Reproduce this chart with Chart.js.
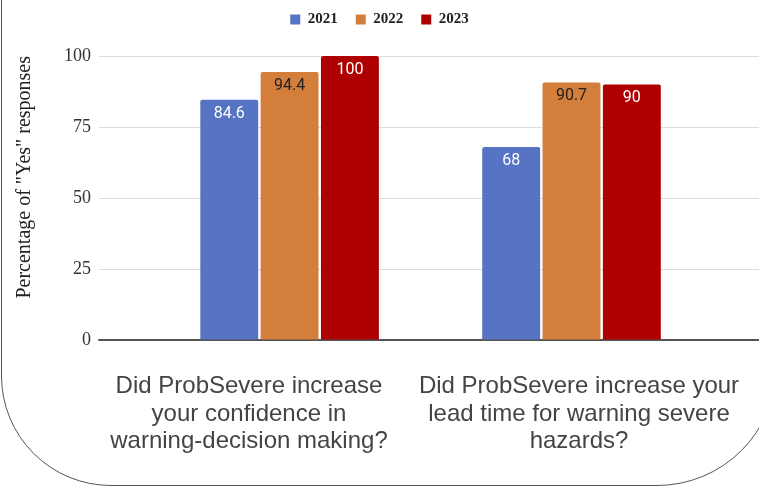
<!DOCTYPE html>
<html>
<head>
<meta charset="utf-8">
<script src="https://cdn.jsdelivr.net/npm/chart.js@4"></script>
<style>
    html, body { margin: 0; padding: 0; background: #fff; overflow: hidden; }
    #wrap { position: relative; width: 759px; height: 487px; }
    #frame {
        position: absolute; left: 1px; top: -20px; width: 776px; height: 506px;
        border: 1.5px solid #555; border-radius: 0 0 120px 110px; box-sizing: border-box;
    }
    #chart { position: absolute; left: 0; top: 0; }
</style>
</head>
<body>
<div id="wrap">
    <div id="frame"></div>
    <canvas id="chart" width="759" height="487"></canvas>
</div>
<script>
    // Data
    const questions = [
        ['Did ProbSevere increase', 'your confidence in', 'warning-decision making?'],
        ['Did ProbSevere increase your', 'lead time for warning severe', 'hazards?']
    ];
    const years = ['2021', '2022', '2023'];
    const values2021 = [84.6, 68];
    const values2022 = [94.4, 90.7];
    const values2023 = [100, 90];
    const yTicks = [0, 25, 50, 75, 100];

    const barColors = ['#5673C4', '#D47E3C', '#AE0000'];
    const labelColors = ['#ffffff', '#222222', '#ffffff'];

    // Draw the value inside the top of each bar
    const valueLabels = {
        id: 'valueLabels',
        afterDatasetsDraw(chart) {
            const ctx = chart.ctx;
            ctx.save();
            ctx.font = '16px Roboto, "Open Sans", sans-serif';
            ctx.textAlign = 'center';
            ctx.textBaseline = 'middle';
            chart.data.datasets.forEach(function (ds, i) {
                chart.getDatasetMeta(i).data.forEach(function (bar, j) {
                    ctx.fillStyle = labelColors[i];
                    ctx.fillText(String(ds.data[j].y), bar.x, bar.y + 14);
                });
            });
            ctx.restore();
        }
    };

    // Extra space between the legend and the plot
    const legendGap = {
        id: 'legendGap',
        beforeInit(chart) {
            const fit = chart.legend.fit;
            chart.legend.fit = function () {
                fit.bind(chart.legend)();
                this.height += 19;
            };
        }
    };

    const ctx = document.getElementById('chart').getContext('2d');
    new Chart(ctx, {
        type: 'bar',
        data: {
            labels: questions,
            datasets: [values2021, values2022, values2023].map(function (vals, i) {
                return {
                    label: years[i],
                    data: vals.map(function (v, j) { return { x: j, y: v }; }),
                    xAxisID: 'x',
                    backgroundColor: barColors[i],
                    borderRadius: { topLeft: 2, topRight: 2 },
                    borderSkipped: 'bottom',
                    categoryPercentage: 0.642,
                    barPercentage: 0.96
                };
            })
        },
        options: {
            responsive: false,
            animation: false,
            layout: { padding: { top: -6, right: 0, left: 0, bottom: 0 } },
            plugins: {
                legend: {
                    position: 'top',
                    labels: {
                        boxWidth: 10,
                        boxHeight: 10,
                        padding: 18,
                        color: '#222',
                        font: { family: '"Liberation Serif", "DejaVu Serif", serif', size: 15, weight: 'bold' }
                    }
                },
                tooltip: { enabled: false }
            },
            scales: {
                // positions the bar groups (index 0 and 1) like the picture
                x: {
                    type: 'linear',
                    display: false,
                    offset: false,
                    min: -0.676,
                    max: 1.665,
                    afterBuildTicks: function (scale) {
                        scale.ticks = questions.map(function (q, i) { return { value: i }; });
                    }
                },
                // carries the question labels
                x2: {
                    type: 'category',
                    position: 'bottom',
                    grid: { display: false },
                    border: { display: true, color: '#555', width: 1.5 },
                    ticks: {
                        color: '#444',
                        padding: 25,
                        labelOffset: -15,
                        maxRotation: 0,
                        autoSkip: false,
                        font: { family: '"Liberation Sans", Arial, sans-serif', size: 24, lineHeight: 1.14 }
                    },
                    afterFit: function (scale) {
                        scale.height = 147;
                        scale.paddingLeft = 0;
                        scale.paddingRight = 0;
                    }
                },
                y: {
                    min: 0,
                    max: 100,
                    afterBuildTicks: function (scale) {
                        scale.ticks = yTicks.map(function (v) { return { value: v }; });
                    },
                    grid: {
                        drawTicks: false,
                        color: function (c) { return c.tick && c.tick.value === 0 ? '#555' : '#dddddd'; }
                    },
                    border: { display: false },
                    ticks: {
                        color: '#333',
                        padding: 8,
                        font: { family: '"Liberation Serif", "DejaVu Serif", serif', size: 18 }
                    },
                    title: {
                        display: true,
                        align: 'end',
                        text: 'Percentage of "Yes" responses',
                        color: '#222',
                        padding: { top: 13, bottom: 0 },
                        font: { family: '"Liberation Serif", "DejaVu Serif", serif', size: 20 }
                    },
                    afterFit: function (scale) { scale.width = 99; }
                }
            }
        },
        plugins: [valueLabels, legendGap]
    });
</script>
</body>
</html>
